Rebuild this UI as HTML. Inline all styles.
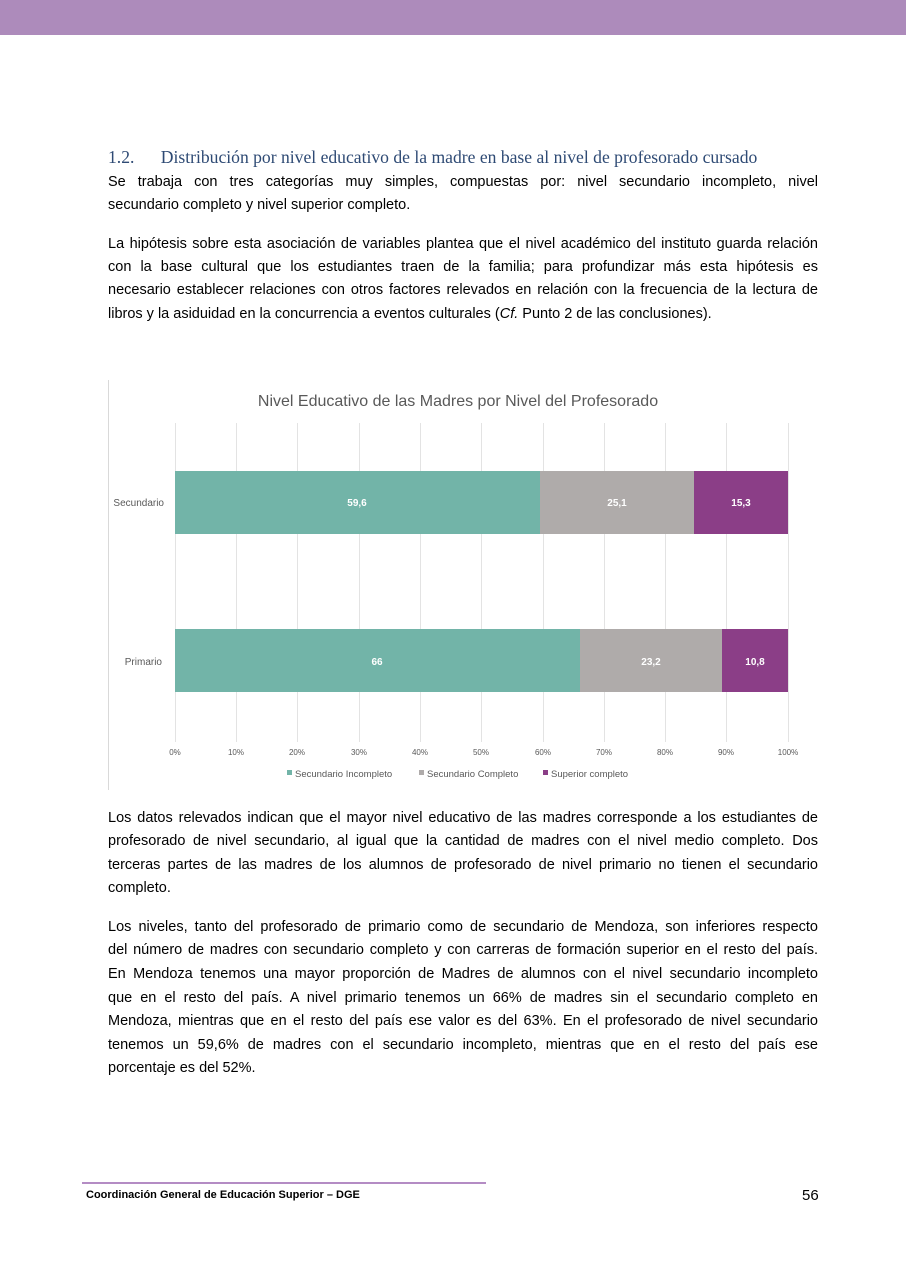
<!DOCTYPE html>
<html><head><meta charset="utf-8"><style>
body{margin:0;width:906px;height:1280px;position:relative;background:#fff;font-family:"Liberation Sans",sans-serif;color:#000;overflow:hidden}
.top{position:absolute;left:0;top:0;width:906px;height:35px;background:#ad8bbb}
.h{position:absolute;left:108px;top:147px;width:712px;font-family:"Liberation Serif",serif;font-size:17.6px;color:#2e4a74;white-space:nowrap}
.l{position:absolute;left:108px;width:710px;font-size:14.5px;line-height:20px;white-space:nowrap;text-align:justify;text-align-last:justify}
.l.e{text-align-last:left}
.foot{position:absolute;left:86px;top:1189px;font-size:11px;font-weight:bold}
.pg{position:absolute;left:802px;top:1187px;font-size:15px}
</style></head><body>
<div class="top"></div>
<div class="h">1.2.&nbsp;&nbsp;&nbsp;&nbsp;&nbsp;&nbsp;Distribución por nivel educativo de la madre en base al nivel de profesorado cursado</div>
<div class="l" style="top:172px">Se trabaja con tres categorías muy simples, compuestas por: nivel secundario incompleto, nivel</div>
<div class="l e" style="top:195px">secundario completo y nivel superior completo.</div>
<div class="l" style="top:234px">La hipótesis sobre esta asociación de variables plantea que el nivel académico del instituto guarda relación</div>
<div class="l" style="top:257px">con la base cultural que los estudiantes traen de la familia; para profundizar más esta hipótesis es</div>
<div class="l" style="top:280px">necesario establecer relaciones con otros factores relevados en relación con la frecuencia de la lectura de</div>
<div class="l e" style="top:304px">libros y la asiduidad en la concurrencia a eventos culturales (<i>Cf.</i> Punto 2 de las conclusiones).</div>

<svg style="position:absolute;left:0;top:0" width="906" height="1280">
<line x1="108.5" y1="380" x2="108.5" y2="790" stroke="#d9d9d9"/>
<text x="458" y="406" text-anchor="middle" font-family="Liberation Sans" font-size="16" fill="#595959">Nivel Educativo de las Madres por Nivel del Profesorado</text>
<g stroke="#e3e3e3" stroke-width="1">
<line x1="175.5" y1="423" x2="175.5" y2="742"/><line x1="236.5" y1="423" x2="236.5" y2="742"/><line x1="297.5" y1="423" x2="297.5" y2="742"/><line x1="359.5" y1="423" x2="359.5" y2="742"/><line x1="420.5" y1="423" x2="420.5" y2="742"/><line x1="481.5" y1="423" x2="481.5" y2="742"/><line x1="543.5" y1="423" x2="543.5" y2="742"/><line x1="604.5" y1="423" x2="604.5" y2="742"/><line x1="665.5" y1="423" x2="665.5" y2="742"/><line x1="726.5" y1="423" x2="726.5" y2="742"/><line x1="788.5" y1="423" x2="788.5" y2="742"/>
</g>
<rect x="175" y="471" width="365" height="63" fill="#72b4a8"/>
<rect x="540" y="471" width="154" height="63" fill="#afabaa"/>
<rect x="694" y="471" width="94" height="63" fill="#8b3e87"/>
<rect x="175" y="629" width="405" height="63" fill="#72b4a8"/>
<rect x="580" y="629" width="142" height="63" fill="#afabaa"/>
<rect x="722" y="629" width="66" height="63" fill="#8b3e87"/>
<g font-family="Liberation Sans" font-size="10" font-weight="bold" fill="#fff" text-anchor="middle">
<text x="357" y="506">59,6</text><text x="617" y="506">25,1</text><text x="741" y="506">15,3</text>
<text x="377" y="665">66</text><text x="651" y="665">23,2</text><text x="755" y="665">10,8</text>
</g>
<g font-family="Liberation Sans" font-size="10" fill="#595959" text-anchor="end">
<text x="164" y="506">Secundario</text><text x="162" y="665">Primario</text>
</g>
<g font-family="Liberation Sans" font-size="8" fill="#595959" text-anchor="middle">
<text x="175" y="755">0%</text><text x="236" y="755">10%</text><text x="297" y="755">20%</text><text x="359" y="755">30%</text><text x="420" y="755">40%</text><text x="481" y="755">50%</text><text x="543" y="755">60%</text><text x="604" y="755">70%</text><text x="665" y="755">80%</text><text x="726" y="755">90%</text><text x="788" y="755">100%</text>
</g>
<g font-family="Liberation Sans" font-size="9.5" fill="#595959">
<rect x="287" y="770" width="5" height="5" fill="#72b4a8"/><text x="295" y="777">Secundario Incompleto</text>
<rect x="419" y="770" width="5" height="5" fill="#afabaa"/><text x="427" y="777">Secundario Completo</text>
<rect x="543" y="770" width="5" height="5" fill="#8b3e87"/><text x="551" y="777">Superior completo</text>
</g>
<line x1="82" y1="1183" x2="486" y2="1183" stroke="#b48cc4" stroke-width="2"/>
</svg>

<div class="l" style="top:808px">Los datos relevados indican que el mayor nivel educativo de las madres corresponde a los estudiantes de</div>
<div class="l" style="top:831px">profesorado de nivel secundario, al igual que la cantidad de madres con el nivel medio completo. Dos</div>
<div class="l" style="top:855px">terceras partes de las madres de los alumnos de profesorado de nivel primario no tienen el secundario</div>
<div class="l e" style="top:878px">completo.</div>
<div class="l" style="top:917px">Los niveles, tanto del profesorado de primario como de secundario de Mendoza, son inferiores respecto</div>
<div class="l" style="top:940px">del número de madres con secundario completo y con carreras de formación superior en el resto del país.</div>
<div class="l" style="top:964px">En Mendoza tenemos una mayor proporción de Madres de alumnos con el nivel secundario incompleto</div>
<div class="l" style="top:988px">que en el resto del país. A nivel primario tenemos un 66% de madres sin el secundario completo en</div>
<div class="l" style="top:1011px">Mendoza, mientras que en el resto del país ese valor es del 63%. En el profesorado de nivel secundario</div>
<div class="l" style="top:1035px">tenemos un 59,6% de madres con el secundario incompleto, mientras que en el resto del país ese</div>
<div class="l e" style="top:1058px">porcentaje es del 52%.</div>
<div class="foot">Coordinación General de Educación Superior – DGE</div>
<div class="pg">56</div>
</body></html>
